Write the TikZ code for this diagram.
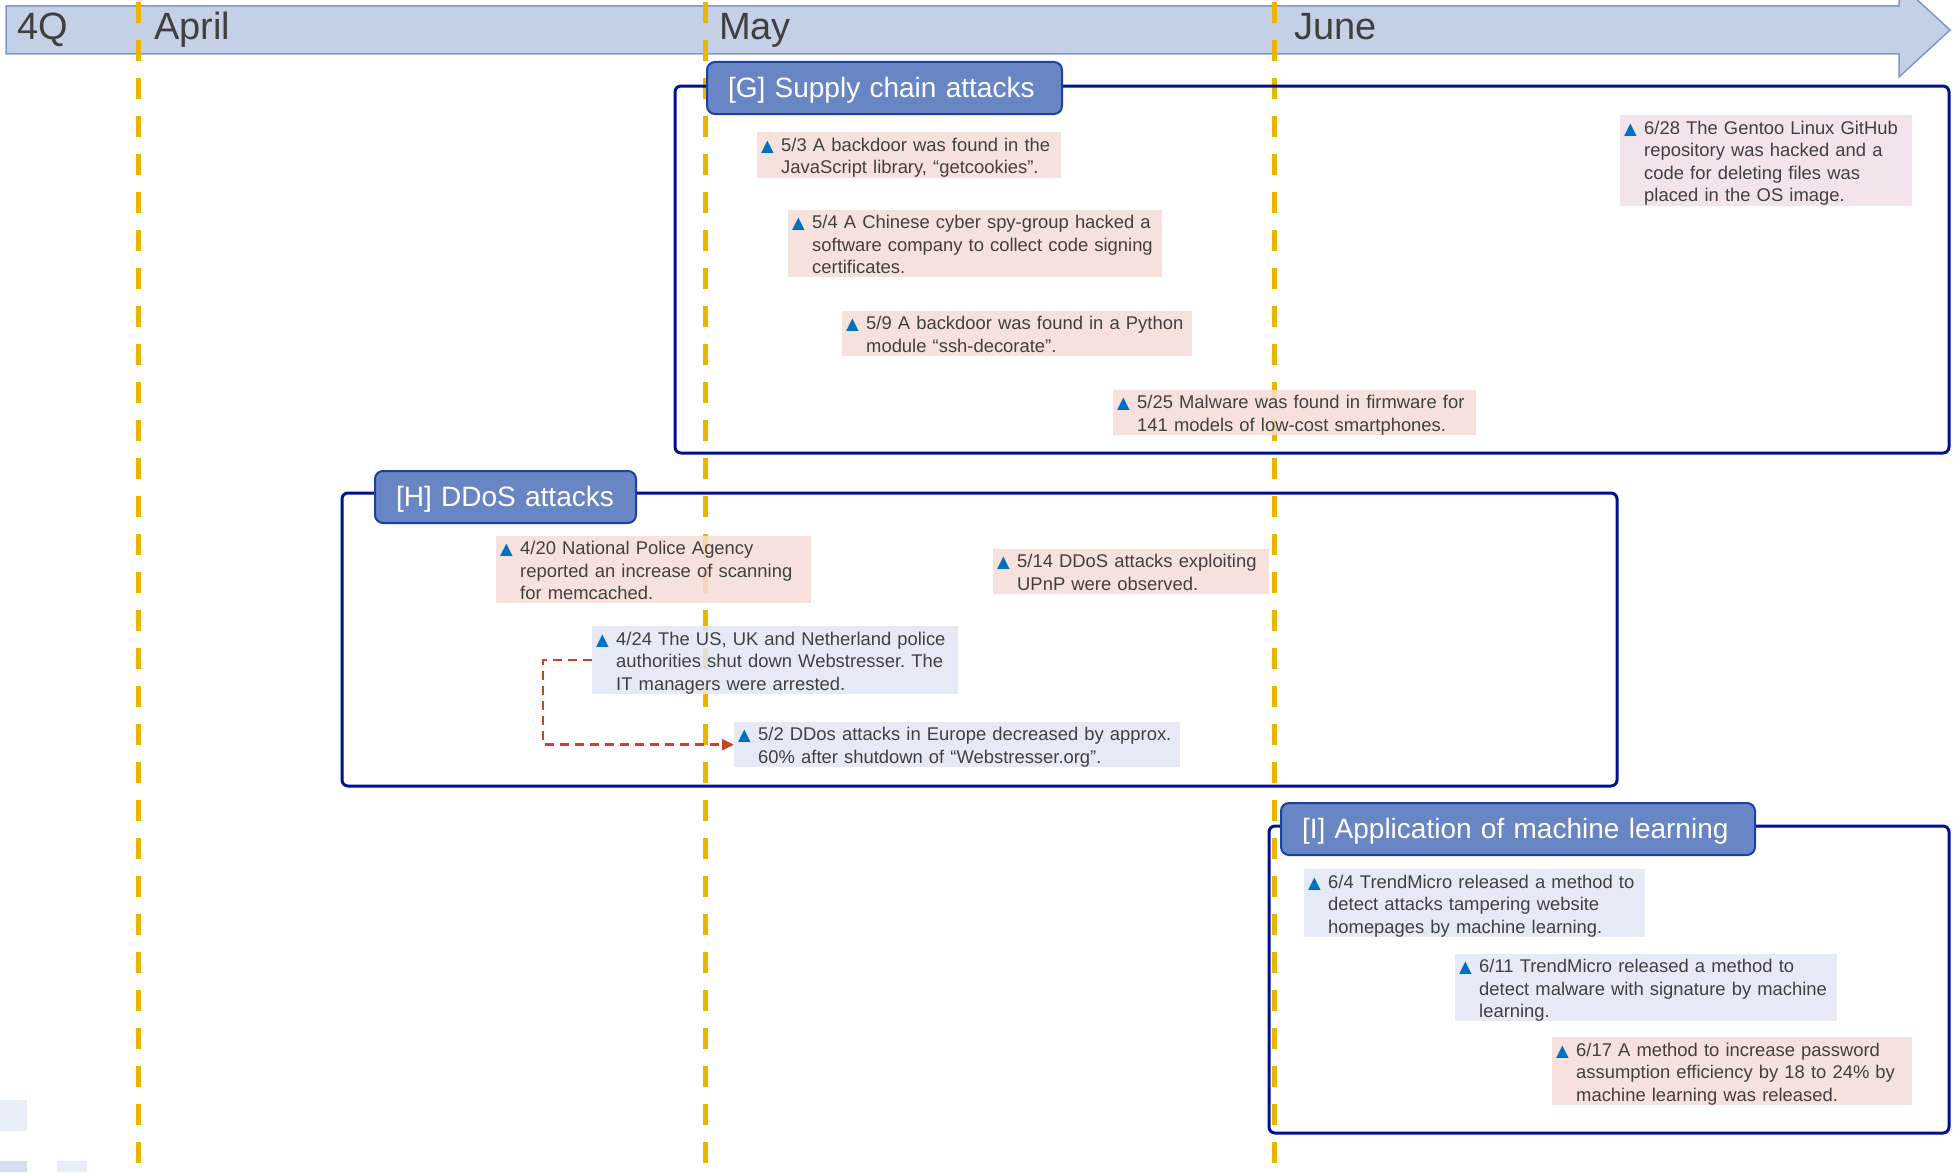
\documentclass[tikz,border=0pt]{standalone}
\usepackage{fontspec}
\setmainfont{Liberation Sans}
\newfontfamily\djv{DejaVu Sans}
\usetikzlibrary{arrows.meta}
\frenchspacing
\definecolor{barfill}{RGB}{196,208,230}
\definecolor{barline}{RGB}{125,152,208}
\definecolor{txtgray}{RGB}{64,64,64}
\definecolor{gold}{RGB}{232,182,0}
\definecolor{navy}{RGB}{0,16,150}
\definecolor{tabfill}{RGB}{104,134,196}
\definecolor{tabline}{RGB}{30,62,168}
\definecolor{pinkfill}{RGB}{245,220,214}
\definecolor{lavfill}{RGB}{226,230,246}
\definecolor{rosefill}{RGB}{240,222,234}
\definecolor{triblue}{RGB}{0,112,192}
\definecolor{redc}{RGB}{200,68,40}
\definecolor{sqa}{RGB}{232,238,248}
\definecolor{sqb}{RGB}{213,222,240}
\newcommand{\tri}{\makebox[20pt][l]{\djv\fontsize{16.5}{16.5}\selectfont\textcolor{triblue}{▲}}}
\newcommand{\ev}[1]{\raisebox{-3pt}[\height][\depth]{\begin{tabular}{@{}l@{}l@{}}\tri & #1\end{tabular}}}
\newcommand{\tabtxt}[1]{\raisebox{-2pt}[\height][\depth]{#1}}
\tikzset{
  evt/.style={anchor=north west, inner xsep=4pt, inner ysep=0pt, align=left,
    font=\fontsize{18.4}{22.4}\selectfont, text=txtgray, fill opacity=0.85, text opacity=1},
  grp/.style={draw=navy, line width=3pt, rounded corners=6pt},
  tab/.style={anchor=north west, draw=tabline, line width=2pt, fill=tabfill, rounded corners=8pt,
    text=white, font=\fontsize{28}{32}\selectfont, inner xsep=21pt, inner ysep=0pt, align=left, minimum height=52pt},
  month/.style={anchor=base west, text=txtgray, font=\fontsize{38}{44}\selectfont, inner sep=0pt},
  vline/.style={draw=gold, line width=5pt, dash pattern=on 21pt off 17pt},
  conn/.style={draw=redc, line width=2.5pt, dash pattern=on 9pt off 6pt, -{Triangle[length=12pt,width=11pt]}},
}
\begin{document}
\begin{tikzpicture}[x=1pt,y=-1pt]
\useasboundingbox (0,0) rectangle (1953,1172);
\clip (0,0) rectangle (1953,1172);
% decorative squares
\fill[sqa] (0,1100) rectangle (27,1131);
\fill[sqb] (0,1161) rectangle (27,1172);
\fill[sqa] (57,1161) rectangle (87,1172);
% timeline bar
\filldraw[fill=barfill, draw=barline, line width=1.5pt]
  (6,6) -- (1899,6) -- (1899,-17) -- (1950,30) -- (1899,77) -- (1899,54) -- (6,54) -- cycle;
% month separators
\draw[vline] (138,2) -- (138,1172);
\draw[vline] (705,2) -- (705,1172);
\draw[vline] (1274,2) -- (1274,1172);
% month labels
\node[month] (q4) at (17,40) {4Q};
\node[month] (apr) at (154,40) {April};
\node[month] (may) at (719,40) {May};
\node[month] (jun) at (1294,40) {June};
% group frames
\draw[grp] (675,86) rectangle (1949,453);
\draw[grp] (342,493) rectangle (1617,786);
\draw[grp] (1269,826) rectangle (1949,1133);
% tabs
\node[tab, text width=313pt] (tg) at (706,61) {\tabtxt{[G] Supply chain attacks}};
\node[tab, text width=219pt] (th) at (374,470) {\tabtxt{[H] DDoS attacks}};
\node[tab, text width=432pt] (ti) at (1280,802) {\tabtxt{[I] Application of machine learning}};
% G events
\node[evt, fill=pinkfill, text width=296pt, minimum height=46pt] (g53) at (757,132)
  {\ev{5/3 A backdoor was found in the\\ & JavaScript library, “getcookies”.}};
\node[evt, fill=pinkfill, text width=366pt, minimum height=67pt] (g54) at (788,210)
  {\ev{5/4 A Chinese cyber spy-group hacked a\\ & software company to collect code signing\\ & certificates.}};
\node[evt, fill=pinkfill, text width=342pt, minimum height=45pt] (g59) at (842,311)
  {\ev{5/9 A backdoor was found in a Python\\ & module “ssh-decorate”.}};
\node[evt, fill=pinkfill, text width=355pt, minimum height=45pt] (g525) at (1113,390)
  {\ev{5/25 Malware was found in firmware for\\ & 141 models of low-cost smartphones.}};
\node[evt, fill=rosefill, text width=284pt, minimum height=91pt] (g628) at (1620,115)
  {\ev{6/28 The Gentoo Linux GitHub\\ & repository was hacked and a\\ & code for deleting files was\\ & placed in the OS image.}};
% H events
\node[evt, fill=pinkfill, text width=307pt, minimum height=67pt] (h420) at (496,536)
  {\ev{4/20 National Police Agency\\ & reported an increase of scanning\\ & for memcached.}};
\node[evt, fill=pinkfill, text width=268pt, minimum height=45pt] (h514) at (993,549)
  {\ev{5/14 DDoS attacks exploiting\\ & UPnP were observed.}};
\node[evt, fill=lavfill, text width=358pt, minimum height=68pt] (h424) at (592,626)
  {\ev{4/24 The US, UK and Netherland police\\ & authorities shut down Webstresser. The\\ & IT managers were arrested.}};
\node[evt, fill=lavfill, text width=438pt, minimum height=45pt] (h52) at (734,722)
  {\ev{5/2 DDos attacks in Europe decreased by approx.\\ & 60\% after shutdown of “Webstresser.org”.}};
% I events
\node[evt, fill=lavfill, text width=333pt, minimum height=68pt] (i64) at (1304,869)
  {\ev{6/4 TrendMicro released a method to\\ & detect attacks tampering website\\ & homepages by machine learning.}};
\node[evt, fill=lavfill, text width=374pt, minimum height=67pt] (i611) at (1455,954)
  {\ev{6/11 TrendMicro released a method to\\ & detect malware with signature by machine\\ & learning.}};
\node[evt, fill=pinkfill, text width=352pt, minimum height=68pt] (i617) at (1552,1037)
  {\ev{6/17 A method to increase password\\ & assumption efficiency by 18 to 24\% by\\ & machine learning was released.}};
% connector
\draw[conn] (h424.west) -- ++(-49,0) |- (h52.west);
\end{tikzpicture}
\end{document}
